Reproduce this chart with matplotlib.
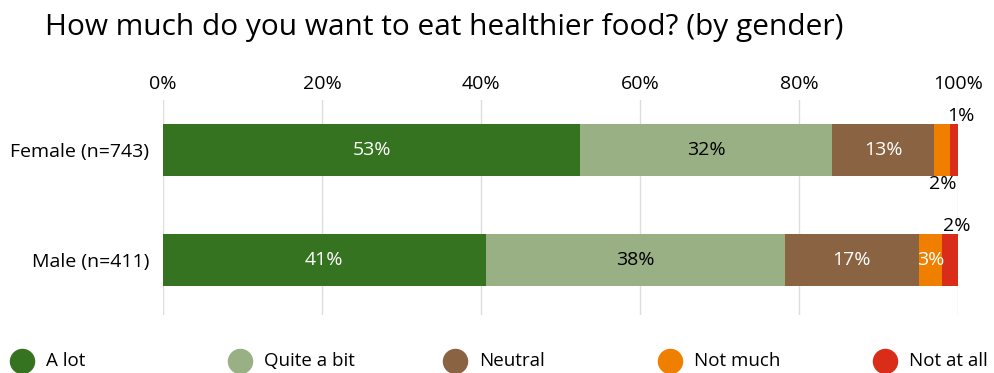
import numpy as np
import matplotlib.pyplot as plt
from matplotlib.ticker import FuncFormatter

plt.rcParams['font.family'] = ['Open Sans', 'DejaVu Sans']

# Survey answers, percent of respondents per group
groups = ['Female (n=743)', 'Male (n=411)']
answers = ['A lot', 'Quite a bit', 'Neutral', 'Not much', 'Not at all']
a_lot = [53, 41]
quite_a_bit = [32, 38]
neutral = [13, 17]
not_much = [2, 3]
not_at_all = [1, 2]

colors = ['#357321', '#98b084', '#8a6343', '#f07f00', '#d92d1a']
text_colors = ['white', 'black', 'white', 'white', 'white']
fs = 14

series = np.array([a_lot, quite_a_bit, neutral, not_much, not_at_all], dtype=float)
# rounded percentages add up to 101, so scale each row to a full bar
shares = series / series.sum(axis=0) * 100

fig = plt.figure(figsize=(9.95, 3.73), dpi=100)
ax = fig.add_axes([163 / 995, 1 - 315 / 373, 795 / 995, 215 / 373])

y = np.arange(len(groups))
left = np.zeros(len(groups))
for i, name in enumerate(answers):
    ax.barh(y, shares[i], left=left, height=0.48, color=colors[i], zorder=2)
    for j in range(len(groups)):
        val = series[i, j]
        cx = left[j] + shares[i, j] / 2
        label = f'{val:.0f}%'
        if shares[i, j] >= 2.5:
            ax.text(cx, y[j], label, ha='center', va='center',
                    color=text_colors[i], fontsize=fs, zorder=3)
        elif i == 4:
            # tiny segment: label above the bar
            ax.annotate(label, (cx, y[j] - 0.24), xytext=(5, -1),
                        textcoords='offset points', ha='center', va='bottom',
                        fontsize=fs, color='black')
        else:
            ax.annotate(label, (cx, y[j] + 0.24), xytext=(0, 1),
                        textcoords='offset points', ha='center', va='top',
                        fontsize=fs, color='black')
    left += shares[i]

ax.set_xlim(0, 100)
ax.set_ylim(1.5, -0.4545)
ax.set_xticks(np.arange(0, 101, 20))
ax.xaxis.set_major_formatter(FuncFormatter(lambda v, p: f'{v:.0f}%'))
ax.xaxis.tick_top()
ax.set_yticks(y)
ax.set_yticklabels(groups)
ax.tick_params(axis='both', length=0, labelsize=fs)
ax.tick_params(axis='y', pad=10)
ax.tick_params(axis='x', pad=5)
ax.grid(axis='x', color='#dddddd', linewidth=1, zorder=0)
for s in ax.spines.values():
    s.set_visible(False)

fig.text(45 / 995, 1 - 27 / 373, 'How much do you want to eat healthier food? (by gender)',
         fontsize=21.5, va='center', ha='left')

# legend row along the bottom
lax = fig.add_axes([0, 0, 1, 1 - 335 / 373])
lax.set_xlim(0, 995)
lax.set_ylim(0, 38)
lax.axis('off')
leg_x = [22, 240, 455, 670, 885]
for i, name in enumerate(answers):
    lax.scatter(leg_x[i], 12, s=300, color=colors[i], clip_on=False)
    lax.text(leg_x[i] + 24, 12, name, fontsize=13.5, va='center', ha='left')

fig.savefig('out.png', dpi=100)
